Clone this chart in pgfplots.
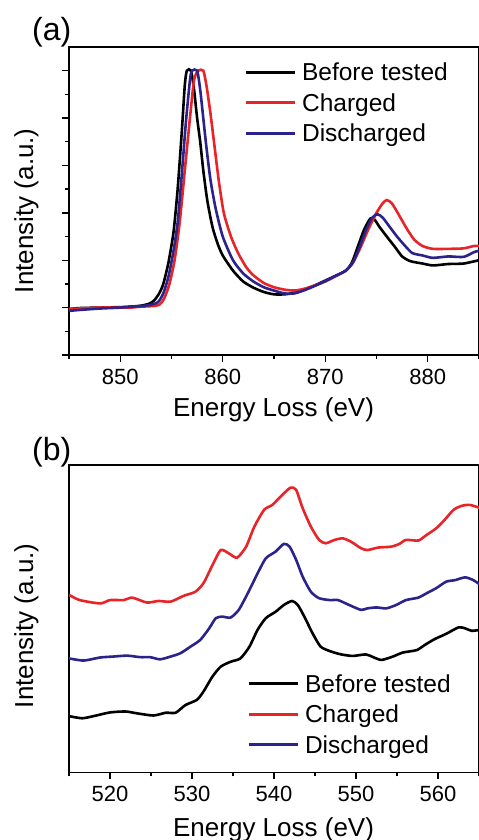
\documentclass[border=0pt]{standalone}
\usepackage{fontspec}
\setmainfont{Liberation Sans}
\usepackage{pgfplots}
\pgfplotsset{compat=1.18}
\definecolor{cred}{RGB}{232,36,40}
\definecolor{cblue}{RGB}{44,34,140}

\pgfplotsset{
  eels/.style={
    scale only axis, width=205bp, clip mode=individual,
    axis line style={line width=0.8bp},
    tick style={line width=0.7bp, black},
    tick align=outside, tick pos=left,
    major tick length=3.5bp, minor tick length=2bp,
    ticklabel style={font=\fontsize{11bp}{13bp}\selectfont},
    xticklabel style={/pgf/number format/assume math mode=true},
    label style={font=\fontsize{13bp}{15bp}\selectfont},
    legend cell align=left,
    legend image code/.code={\draw[##1, line width=1.4bp] (0bp,0bp) -- (24.5bp,0bp); \path (27.5bp,0bp);},
    legend style={draw=none, fill=none, inner sep=0pt, row sep=0pt,
      font=\fontsize{12.25bp}{14bp}\selectfont,
      nodes={inner sep=0pt, text height=12bp, text depth=3.25bp}},
    every axis plot/.append style={line width=1.3bp, smooth, tension=0.4},
  }
}

\begin{document}
\begin{tikzpicture}
\path[use as bounding box] (0,0) rectangle (239.5bp,420bp);

% (a)
\begin{axis}[eels, at={(34.5bp,242.5bp)}, anchor=south west, height=154bp,
  xmin=845, xmax=885, ymin=0, ymax=6.5,
  xtick={850,860,870,880}, minor xtick={845,855,865,875,885},
  ytick={0,1,2,3,4,5,6}, minor ytick={0.5,1.5,2.5,3.5,4.5,5.5}, yticklabels={},
  xlabel={Energy Loss (eV)}, ylabel={Intensity (a.u.)},
  xlabel style={at={(axis description cs:0.499,-0.2013)}, anchor=base},
  ylabel style={at={(axis description cs:-0.0878,0.4685)}, anchor=base},
  legend style={at={(axis description cs:0.4268,0.9693)}, anchor=north west}]
\addplot[black] coordinates {
(845,0.97) (846,0.99) (848,1.0) (850,1.01) (851,1.02) (852,1.04) (852.8,1.08)
(853.3,1.15) (853.8,1.3) (854.2,1.5) (854.7,1.95) (855.2,2.6) (855.6,3.5)
(856.0,4.7) (856.3,5.7) (856.5,6.0) (856.9,6.0) (857.2,5.6) (857.5,5.0)
(857.8,4.5) (858.1,3.9) (858.5,3.25) (859.0,2.7) (859.5,2.35) (860,2.1)
(861,1.78) (862,1.55) (863,1.42) (864,1.33) (865,1.28) (866,1.28) (867,1.31)
(868,1.38) (869,1.47) (870,1.57) (871,1.67) (872,1.78) (872.6,1.95)
(873.2,2.3) (873.8,2.65) (874.4,2.88) (874.8,2.86) (875.3,2.7) (876,2.5)
(876.8,2.28) (877.5,2.08) (878.3,1.98) (879.5,1.93) (880.5,1.89) (882,1.92)
(883.5,1.93) (885,2.0)};
\addplot[cred] coordinates {
(845,0.97) (848,1.0) (850,1.0) (851,1.0) (852,1.02) (853,1.03) (853.8,1.06)
(854.3,1.2) (854.8,1.5) (855.3,2.0) (855.8,2.8) (856.3,3.9) (856.8,5.0)
(857.2,5.8) (857.6,6.0) (858.1,6.0) (858.4,5.7) (858.8,5.1) (859.2,4.4)
(859.6,3.7) (860.1,3.0) (860.8,2.5) (861.5,2.15) (862.3,1.85) (863,1.68)
(864,1.52) (865,1.43) (866,1.38) (867,1.36) (868,1.4) (869,1.47) (870,1.55)
(871,1.66) (872,1.78) (872.7,1.95) (873.4,2.25) (874.2,2.65) (875,3.0)
(875.6,3.2) (876,3.27) (876.5,3.2) (877.2,2.95) (878,2.65) (878.7,2.43)
(879.5,2.3) (880.5,2.24) (882,2.24) (883.5,2.25) (884.5,2.3) (885,2.3)};
\addplot[cblue] coordinates {
(845,0.93) (846,0.95) (848,0.98) (850,1.0) (851,1.02) (852,1.03) (853,1.06)
(853.7,1.12) (854.2,1.3) (854.7,1.65) (855.2,2.2) (855.6,2.8) (856.0,3.8)
(856.4,4.9) (856.8,5.8) (857.0,6.0) (857.5,6.0) (857.8,5.6) (858.1,5.0)
(858.4,4.4) (858.8,3.7) (859.3,3.1) (860,2.5) (861,2.0) (862,1.72) (863,1.55)
(864,1.43) (865,1.36) (866,1.3) (867,1.3) (868,1.37) (869,1.46) (870,1.56)
(871,1.67) (872,1.78) (872.7,1.95) (873.3,2.25) (874,2.65) (874.6,2.9)
(875.1,2.97) (875.6,2.9) (876.3,2.7) (877,2.5) (877.8,2.3) (878.5,2.15)
(879.5,2.1) (880.5,2.05) (882,2.08) (883.5,2.07) (884.5,2.17) (885,2.2)};
\legend{Before tested, Charged, Discharged}
\node[anchor=base west, font=\fontsize{16bp}{18bp}\selectfont] at (axis description cs:-0.107,1.0227) {(a)};
\end{axis}

% (b)
\begin{axis}[eels, at={(34.5bp,33.85bp)}, anchor=south west, height=153.5bp,
  xmin=515, xmax=565, ymin=0, ymax=10,
  xtick={520,530,540,550,560}, minor xtick={515,525,535,545,555,565},
  ytick=\empty,
  xlabel={Energy Loss (eV)}, ylabel={Intensity (a.u.)},
  xlabel style={at={(axis description cs:0.499,-0.21)}, anchor=base},
  ylabel style={at={(axis description cs:-0.0878,0.477)}, anchor=base},
  legend style={at={(axis description cs:0.434,0.3397)}, anchor=north west}]
\addplot[black] coordinates {
(515,1.83) (516.6,1.76) (518,1.83) (520,1.95) (521.9,1.98) (523.3,1.92)
(525.3,1.85) (526.8,1.94) (528,1.94) (529.2,2.19) (530.6,2.36) (531.4,2.63)
(532.5,3.12) (533.5,3.44) (534.7,3.60) (535.9,3.71) (537,4.09) (538,4.64)
(539,5.02) (540.2,5.23) (541.2,5.45) (542.2,5.58) (542.9,5.45) (543.7,5.07)
(544.7,4.53) (545.7,4.09) (547,3.93) (548.2,3.84) (549.6,3.79) (551.2,3.84)
(552.1,3.75) (553.1,3.66) (554.5,3.77) (555.7,3.90) (557.4,3.98) (558.4,4.15)
(559.6,4.34) (561,4.51) (562.5,4.72) (563.3,4.69) (564.1,4.61) (565.2,4.64)};
\addplot[cred] coordinates {
(515,5.78) (516.3,5.61) (518.8,5.50) (520,5.61) (521.7,5.61) (522.7,5.69)
(524.5,5.53) (525.9,5.58) (527.4,5.56) (529,5.75) (530.4,5.88) (531.4,6.16)
(532.5,6.75) (533.5,7.24) (534.5,7.13) (535.5,6.99) (536.6,7.35) (537.6,8.0)
(538.8,8.55) (539.8,8.71) (540.8,8.98) (542,9.27) (542.7,9.2) (543.5,8.6)
(544.5,8.0) (545.5,7.57) (546.3,7.46) (547.4,7.57) (548.4,7.62) (549.4,7.51)
(550.6,7.30) (551.4,7.24) (552.7,7.32) (554.3,7.35) (555.3,7.44) (556.1,7.57)
(557.6,7.55) (558.6,7.73) (559.8,7.95) (560.8,8.22) (561.9,8.55) (562.9,8.68)
(563.9,8.71) (565.2,8.6)};
\addplot[cblue] coordinates {
(515,3.71) (516.8,3.64) (518.8,3.74) (520.4,3.77) (522.1,3.80) (523.7,3.75)
(524.9,3.75) (526.1,3.68) (527.4,3.77) (528.6,3.88) (529.8,4.09) (531,4.31)
(532.1,4.69) (532.9,5.02) (533.7,5.07) (534.7,5.04) (535.7,5.29) (536.8,5.83)
(538,6.48) (539,6.97) (540.2,7.19) (541.2,7.44) (541.9,7.35) (542.7,6.92)
(543.5,6.37) (544.5,5.88) (545.5,5.67) (546.8,5.61) (547.8,5.61) (549,5.47)
(550.6,5.29) (551.4,5.34) (552.5,5.37) (553.7,5.34) (554.9,5.45) (556.1,5.61)
(557.6,5.69) (558.6,5.83) (559.8,6.0) (561,6.21) (562.1,6.26) (563.3,6.35)
(564.3,6.26) (565.2,6.10)};
\legend{Before tested, Charged, Discharged}
\node[anchor=base west, font=\fontsize{16bp}{18bp}\selectfont] at (axis description cs:-0.107,1.017) {(b)};
\end{axis}
\end{tikzpicture}
\end{document}
